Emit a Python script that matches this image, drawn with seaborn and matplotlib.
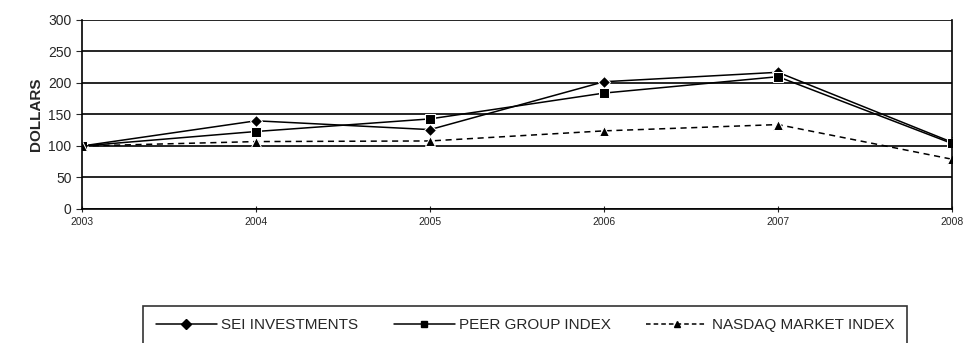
import pandas as pd
import matplotlib.pyplot as plt
import seaborn as sns
from matplotlib.lines import Line2D

# Datos
years = [2003, 2004, 2005, 2006, 2007, 2008]
sei = [100, 140, 126, 202, 217, 106]
peer = [100, 123, 143, 184, 210, 104]
nasdaq = [100, 107, 108, 124, 134, 79]
series_names = ['SEI INVESTMENTS', 'PEER GROUP INDEX', 'NASDAQ MARKET INDEX']

df = pd.DataFrame({'year': years * 3,
                   'value': sei + peer + nasdaq,
                   'series': [s for s in series_names for _ in years]})

sns.set_style('white')
plt.rcParams['font.family'] = ['Liberation Sans', 'DejaVu Sans']

fig = plt.figure(figsize=(9.66, 3.43), dpi=100)
ax = fig.add_axes([0.0849, 0.3907, 0.9006, 0.551])

sns.lineplot(data=df, x='year', y='value', hue='series', style='series',
             palette=['black'] * 3, markers=['D', 's', '^'],
             dashes=[(None, None), (None, None), (4, 3)],
             markersize=6.5, linewidth=1.1, ax=ax, legend=False)

ax.set_xlim(2003, 2008)
ax.set_ylim(0, 300)
ax.set_yticks(range(0, 301, 50))
ax.set_xticks(years)
ax.set_xticklabels([str(y) for y in years], fontsize=7.5)
ax.tick_params(axis='y', labelsize=10, length=4, direction='out', left=True)
ax.tick_params(axis='x', length=5, direction='inout', bottom=True)
ax.grid(axis='y', color='black', linewidth=1.2)
ax.set_axisbelow(True)
for side in ['left', 'bottom', 'right']:
    ax.spines[side].set_color('black')
    ax.spines[side].set_linewidth(1.2)
ax.spines['top'].set_visible(False)
ax.set_xlabel('')
ax.set_ylabel('DOLLARS', fontsize=11, fontweight='bold')

# Leyenda abajo, recortada por el borde de la figura
handles = [Line2D([], [], color='black', marker='D', markersize=5, linewidth=1.1),
           Line2D([], [], color='black', marker='s', markersize=5, linewidth=1.1),
           Line2D([], [], color='black', marker='^', markersize=5, linewidth=1.1, dashes=(3, 2))]
leg = fig.legend(handles, series_names, loc='upper center',
                 bbox_to_anchor=(0.5435, 0.108),
                 ncol=3, fontsize=11, frameon=True, fancybox=False,
                 borderpad=0.8, handlelength=4, columnspacing=2.3,
                 handletextpad=0.3, borderaxespad=0)
leg.get_frame().set_edgecolor('black')
leg.get_frame().set_linewidth(1.2)

fig.savefig('out.png', dpi=100)
